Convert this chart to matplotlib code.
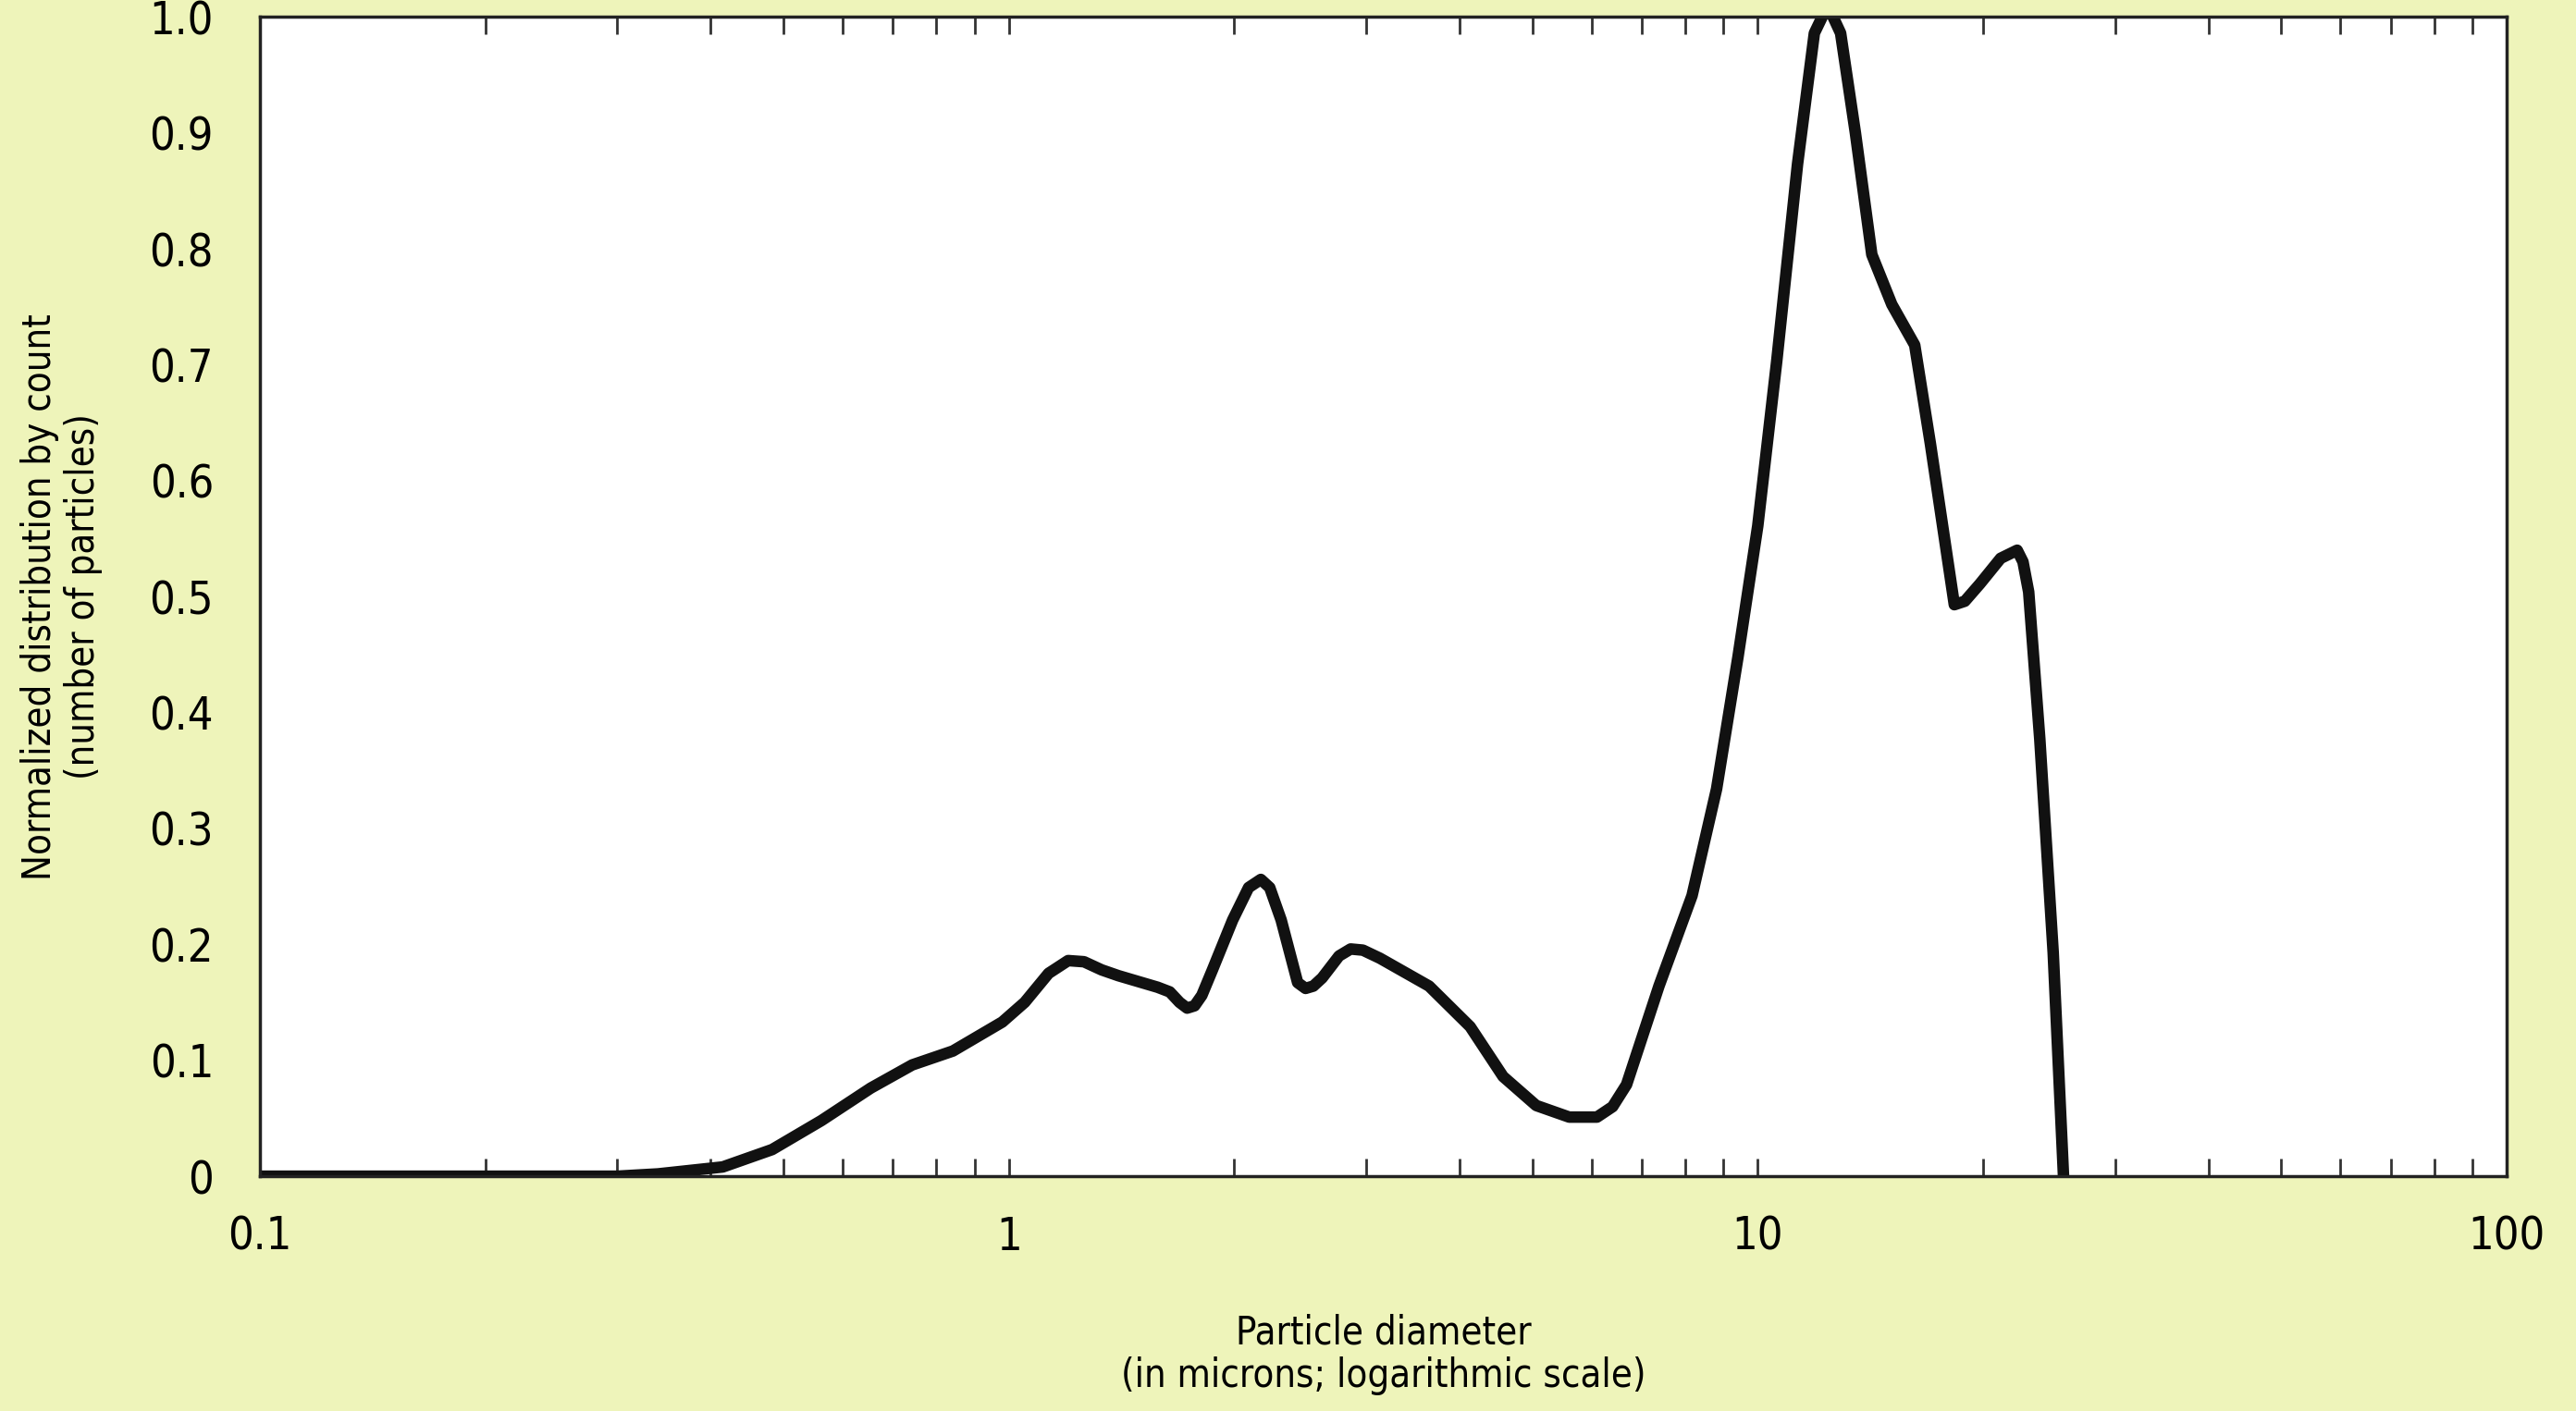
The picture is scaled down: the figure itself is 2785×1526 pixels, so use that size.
import numpy as np
import matplotlib.pyplot as plt
from matplotlib import font_manager

# particle size distribution
diameter = [0.1, 0.2, 0.3, 0.34, 0.415, 0.483, 0.562, 0.654, 0.743, 0.842, 0.98,
            1.05, 1.13, 1.2, 1.26, 1.33, 1.40, 1.58, 1.64, 1.69, 1.73, 1.77, 1.81, 1.87, 1.99,
            2.09, 2.17, 2.23, 2.31, 2.43, 2.49, 2.55, 2.62, 2.76, 2.86, 2.97,
            3.13, 3.64, 4.13, 4.57, 5.06, 5.60, 6.10, 6.40, 6.68, 7.38,
            8.17, 8.81, 9.41, 10.0, 10.6, 11.3, 11.9, 12.4, 12.9, 13.5, 14.2,
            15.1, 16.2, 17.0, 18.3, 18.9, 19.8, 21.1, 22.2, 22.6, 23.0, 23.8, 24.8, 25.6]
count = [0.0, 0.0, 0.0, 0.002, 0.008, 0.023, 0.048, 0.076, 0.096, 0.108, 0.133,
         0.150, 0.175, 0.186, 0.185, 0.178, 0.173, 0.163, 0.159, 0.150, 0.145, 0.147, 0.156, 0.178, 0.221,
         0.249, 0.256, 0.249, 0.221, 0.167, 0.162, 0.164, 0.171, 0.190, 0.196, 0.195,
         0.188, 0.164, 0.129, 0.086, 0.061, 0.051, 0.051, 0.060, 0.079, 0.164,
         0.242, 0.334, 0.448, 0.561, 0.703, 0.873, 0.986, 1.01, 0.986, 0.90, 0.795,
         0.752, 0.717, 0.632, 0.493, 0.496, 0.511, 0.533, 0.540, 0.530, 0.504, 0.377, 0.193, 0.0]

y_ticks = [0, 0.1, 0.2, 0.3, 0.4, 0.5, 0.6, 0.7, 0.8, 0.9, 1.0]
y_labels = ['0', '0.1', '0.2', '0.3', '0.4', '0.5', '0.6', '0.7', '0.8', '0.9', '1.0']
x_ticks = [0.1, 1, 10, 100]
x_labels = ['0.1', '1', '10', '100']

# a narrow font like the original, if one is installed
fonts = font_manager.fontManager.ttflist
narrow = [f.name for f in fonts if f.stretch in ('condensed', 'semi-condensed', 'extra-condensed')
          or 'Narrow' in f.name or 'Condensed' in f.name]
if narrow:
    plt.rcParams['font.family'] = [narrow[0], 'DejaVu Sans']
    plt.rcParams['font.stretch'] = 'condensed'
    tick_size, label_size = 35, 30
else:
    plt.rcParams['font.family'] = ['DejaVu Sans']
    tick_size, label_size = 30, 26

fig = plt.figure(figsize=(27.85, 15.26), dpi=100, facecolor='#eef4ba')
ax = fig.add_axes([0.1009, 0.1664, 0.8722, 0.8216])
ax.set_facecolor('white')

ax.plot(diameter, count, color='#111111', linewidth=9, solid_joinstyle='round',
        solid_capstyle='round')

ax.set_xscale('log')
ax.set_xlim(0.1, 100)
ax.set_ylim(0, 1.0)

ax.set_xticks(x_ticks)
ax.set_xticklabels(x_labels)
ax.set_yticks(y_ticks)
ax.set_yticklabels(y_labels)

ax.tick_params(axis='x', which='both', direction='in', top=True, bottom=True,
               color='#333333', width=2)
ax.tick_params(axis='x', which='major', length=14, pad=30, labelsize=tick_size)
ax.tick_params(axis='x', which='minor', length=14)
ax.tick_params(axis='y', which='both', length=0, pad=36, labelsize=tick_size)

for s in ax.spines.values():
    s.set_linewidth(2.5)
    s.set_color('#222222')

ax.set_xlabel('Particle diameter\n(in microns; logarithmic scale)', fontsize=label_size,
              linespacing=1.15)
ax.xaxis.set_label_coords(0.5, -0.118)
ax.set_ylabel('Normalized distribution by count\n(number of particles)', fontsize=label_size,
              linespacing=1.15)
ax.yaxis.set_label_coords(-0.07, 0.5)

fig.savefig('out.png', dpi=100, facecolor=fig.get_facecolor())
